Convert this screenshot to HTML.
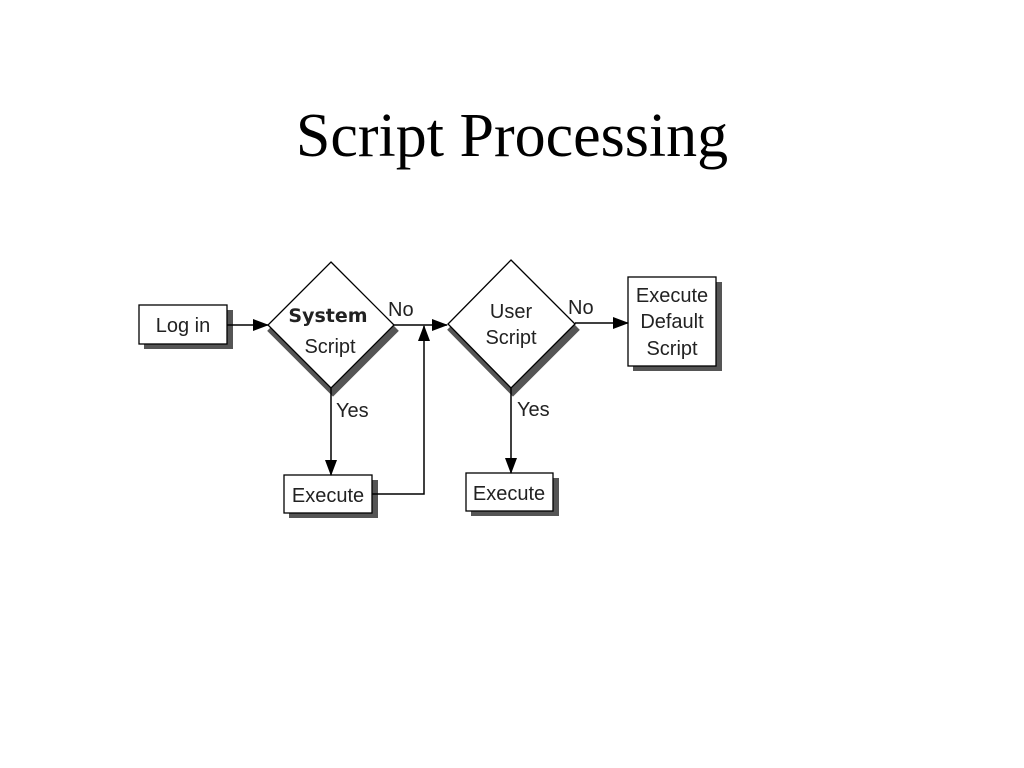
<!DOCTYPE html>
<html><head><style>
body{margin:0;background:#fff;width:1024px;height:768px;overflow:hidden}
h1{position:absolute;top:102px;left:0;width:1024px;text-align:center;margin:0;font:62px/1.1 "Liberation Serif",serif;font-weight:normal;color:#000}
svg{position:absolute;left:0;top:0}
text{font-family:"Liberation Sans",sans-serif;font-size:20px;fill:#222}
</style></head><body>
<h1>Script Processing</h1>
<svg width="1024" height="768">
<defs><marker id="a" markerWidth="16" markerHeight="12" refX="15" refY="6" orient="auto" markerUnits="userSpaceOnUse"><path d="M0,0L16,6L0,12z" fill="#000"/></marker></defs>
<g fill="#555">
<rect x="144" y="310" width="89" height="39"/>
<rect x="289" y="480" width="89" height="38"/>
<rect x="471" y="478" width="88" height="38"/>
<rect x="633" y="282" width="89" height="89"/>
</g>
<path d="M268,325L331,388L394,325" fill="none" stroke="#555" stroke-width="8" transform="translate(2,3)"/>
<path d="M448,324L511,388L575,324" fill="none" stroke="#555" stroke-width="8" transform="translate(2,3)"/>
<g fill="#fff" stroke="#000" stroke-width="1.3">
<rect x="139" y="305" width="88" height="39"/>
<rect x="284" y="475" width="88" height="38"/>
<rect x="466" y="473" width="87" height="38"/>
<rect x="628" y="277" width="88" height="89"/>
<path d="M331,262L394,325L331,388L268,325z"/>
<path d="M511,260L575,324L511,388L448,324z"/>
</g>
<g stroke="#000" stroke-width="1.5" fill="none">
<line x1="227" y1="325" x2="268" y2="325" marker-end="url(#a)"/>
<line x1="394" y1="325" x2="447" y2="325" marker-end="url(#a)"/>
<polyline points="372,494 424,494 424,326" marker-end="url(#a)"/>
<line x1="575" y1="323" x2="628" y2="323" marker-end="url(#a)"/>
<line x1="331" y1="388" x2="331" y2="475" marker-end="url(#a)"/>
<line x1="511" y1="388" x2="511" y2="473" marker-end="url(#a)"/>
</g>
<text x="183" y="332" text-anchor="middle">Log in</text>
<text x="328" y="322" text-anchor="middle" style="font-family:'DejaVu Sans',sans-serif;font-weight:bold;font-size:19px">System</text>
<text x="330" y="353" text-anchor="middle">Script</text>
<text x="511" y="318" text-anchor="middle">User</text>
<text x="511" y="344" text-anchor="middle">Script</text>
<text x="388" y="316">No</text>
<text x="568" y="314">No</text>
<text x="336" y="417">Yes</text>
<text x="517" y="416">Yes</text>
<text x="328" y="502" text-anchor="middle">Execute</text>
<text x="509" y="500" text-anchor="middle">Execute</text>
<text x="672" y="302" text-anchor="middle">Execute</text>
<text x="672" y="328" text-anchor="middle">Default</text>
<text x="672" y="355" text-anchor="middle">Script</text>
</svg>
</body></html>
